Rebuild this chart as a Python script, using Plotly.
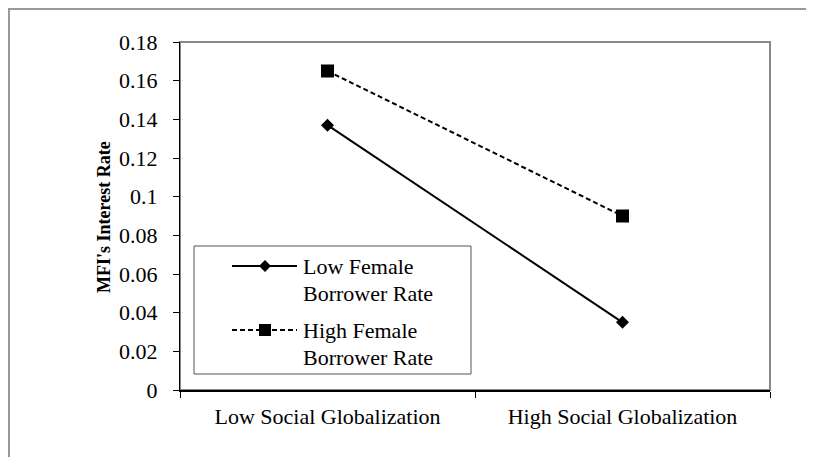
import plotly.graph_objects as go

categories = ["Low Social Globalization", "High Social Globalization"]
low_female = [0.137, 0.035]
high_female = [0.165, 0.09]
series_names = [["Low Female", "Borrower Rate"], ["High Female", "Borrower Rate"]]
y_title = "MFI's Interest Rate"

VW, VH = 814, 457      # browser window
OFF = 8                # default page body margin
W, H = VW - OFF, VH - OFF
L, R, T, B = 180, 770, 42, 390  # plot area in window pixels

def px(x):
    return (x - L) / (R - L)

def py(y):
    return (B - y) / (B - T)

FONT = "Liberation Serif, Times New Roman, serif"
DASH = "5px,3px"

fig = go.Figure()
fig.add_trace(go.Scatter(
    x=categories, y=low_female, mode="lines+markers",
    line=dict(color="black", width=2),
    marker=dict(symbol="diamond", size=10, color="black"),
    showlegend=False, cliponaxis=False))
fig.add_trace(go.Scatter(
    x=categories, y=high_female, mode="lines+markers",
    line=dict(color="black", width=2, dash=DASH),
    marker=dict(symbol="square", size=13, color="black"),
    showlegend=False, cliponaxis=False))

shapes = []
# outer chart border (cropped at right/bottom)
shapes.append(dict(type="rect", xref="paper", yref="paper",
                   x0=px(OFF + 1), x1=px(900), y0=py(OFF + 1), y1=py(600),
                   line=dict(color="#999999", width=2), layer="below"))
# plot area frame
shapes.append(dict(type="rect", xref="paper", yref="paper",
                   x0=0, x1=1, y0=0, y1=1,
                   line=dict(color="#888888", width=2), layer="below"))
# legend box
shapes.append(dict(type="rect", xref="paper", yref="paper",
                   x0=px(194), x1=px(471), y0=py(246), y1=py(374),
                   line=dict(color="#555555", width=1), fillcolor="white", layer="above"))
# legend samples
ly = [266, 330]
shapes.append(dict(type="line", xref="paper", yref="paper",
                   x0=px(232), x1=px(297), y0=py(ly[0]), y1=py(ly[0]),
                   line=dict(color="black", width=2)))
shapes.append(dict(type="line", xref="paper", yref="paper",
                   x0=px(232), x1=px(297), y0=py(ly[1]), y1=py(ly[1]),
                   line=dict(color="black", width=2, dash=DASH)))
cx = 265
d = 6
shapes.append(dict(type="path", xref="paper", yref="paper",
                   path=f"M {px(cx-d)},{py(ly[0])} L {px(cx)},{py(ly[0]-d)} L {px(cx+d)},{py(ly[0])} L {px(cx)},{py(ly[0]+d)} Z",
                   fillcolor="black", line=dict(color="black", width=0)))
s = 6
shapes.append(dict(type="rect", xref="paper", yref="paper",
                   x0=px(cx-s), x1=px(cx+s), y0=py(ly[1]+s), y1=py(ly[1]-s),
                   fillcolor="black", line=dict(color="black", width=0)))

annotations = []
for lines, yy in zip(series_names, ly):
    for i, line in enumerate(lines):
        annotations.append(dict(xref="paper", yref="paper", x=px(301), y=py(yy + 27 * i),
                                text=line, showarrow=False, xanchor="left", yanchor="middle",
                                align="left", font=dict(family=FONT, size=22, color="black")))
annotations.append(dict(xref="paper", yref="paper", x=px(104), y=py(217),
                        text=f"<b>{y_title}</b>", textangle=-90, showarrow=False,
                        xanchor="center", yanchor="middle",
                        font=dict(family=FONT, size=18, color="black")))

fig.update_layout(
    width=W, height=H,
    margin=dict(l=L - OFF, r=VW - R, t=T - OFF, b=VH - B, autoexpand=False),
    paper_bgcolor="white", plot_bgcolor="white",
    font=dict(family=FONT, size=22, color="black"),
    shapes=shapes, annotations=annotations,
    xaxis=dict(type="category", range=[-0.5, 1.5], showgrid=False,
               showline=True, linecolor="black", linewidth=2,
               ticks="outside", tickson="boundaries", ticklen=6, tickcolor="black",
               ticklabelstandoff=6,
               tickfont=dict(family=FONT, size=22, color="black"), zeroline=False),
    yaxis=dict(range=[0, 0.18], dtick=0.02, showgrid=False,
               showline=True, linecolor="black", linewidth=1,
               ticks="outside", ticklen=6, tickcolor="black",
               ticklabelstandoff=11,
               tickfont=dict(family=FONT, size=22, color="black"), zeroline=False),
)

fig.write_html("out.html")
